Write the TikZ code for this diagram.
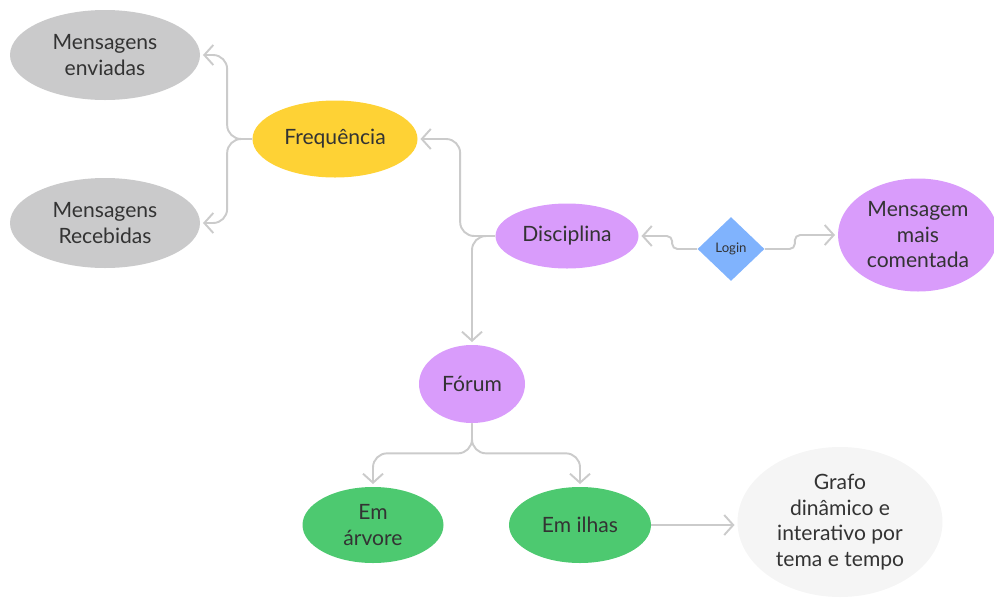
\documentclass[tikz,border=0pt]{standalone}
\usepackage{fontspec}
\setmainfont{Lato}
\usepackage{tikz}
\usetikzlibrary{%
	shapes.geometric,%
	arrows.meta%
}
\definecolor{Ash}{HTML}{CACACB}
\definecolor{Sun}{HTML}{FED235}
\definecolor{Lilac}{HTML}{D99CFB}
\definecolor{Sky}{HTML}{80B3FD}
\definecolor{Leaf}{HTML}{4DC970}
\definecolor{Mist}{HTML}{F5F5F5}
\definecolor{Wire}{HTML}{CBCBCB}
\definecolor{Ink}{HTML}{333333}

\begin{document}
\begin{tikzpicture}[
	every node/.style={text=Ink,font=\fontsize{12}{14.5}\selectfont,align=center,inner sep=0pt},
	bubble/.style={ellipse,fill=#1},
	link/.style={draw=Wire,line width=1.1pt,rounded corners=8pt,-{Straight Barb[length=1.8mm,width=4mm]},shorten >=1.5pt}
]
\useasboundingbox (0,0) rectangle (19.88,-11.94);

\node [bubble=Ash,minimum width=3.8cm,minimum height=1.8cm] (env) at (2.10,-1.10) {Mensagens\\enviadas};
\node [bubble=Ash,minimum width=3.8cm,minimum height=1.8cm] (rec) at (2.10,-4.46) {Mensagens\\Recebidas};
\node [bubble=Sun,minimum width=3.3cm,minimum height=1.54cm] (freq) at (6.70,-2.78) {Frequência};

\node [bubble=Lilac,minimum width=2.86cm,minimum height=1.3cm] (disc) at (11.34,-4.72) {Disciplina};
\node [diamond,fill=Sky,minimum width=1.34cm,minimum height=1.28cm,font=\fontsize{7.5}{8}\selectfont] (login) at (14.62,-4.98) {Login};
\node [bubble=Lilac,minimum width=3.2cm,minimum height=2.26cm] (msg) at (18.36,-4.70) {Mensagem\\mais\\comentada};

\node [bubble=Lilac,minimum width=2.12cm,minimum height=1.56cm] (forum) at (9.44,-7.68) {Fórum};
\node [bubble=Leaf,minimum width=2.82cm,minimum height=1.52cm] (arv) at (7.46,-10.50) {Em\\árvore};
\node [bubble=Leaf,minimum width=2.84cm,minimum height=1.52cm] (ilhas) at (11.60,-10.50) {Em ilhas};
\node [bubble=Mist,minimum width=4.1cm,minimum height=3.0cm] (grafo) at (16.80,-10.44) {Grafo\\dinâmico e\\interativo por\\tema e tempo};


\draw [link] (freq.west) -- ++(-0.5,0) |- (env.east);
\draw [link] (freq.west) -- ++(-0.5,0) |- (rec.east);

\draw [link] (disc.west) -- ++(-0.7,0) |- (freq.east);
\draw [link] (disc.west) -| (forum.north);

\draw [link,rounded corners=3pt] (login.west) -- ++(-0.5,0) |- (disc.east);
\draw [link,rounded corners=3pt] (login.east) -- ++(0.6,0) |- (msg.west);

\draw [link] (forum.south) -- ++(0,-0.6) -| (arv.north);
\draw [link] (forum.south) -- ++(0,-0.6) -| (ilhas.north);

\draw [link] (ilhas.east) -- (ilhas.east -| grafo.west);

\end{tikzpicture}
\end{document}
